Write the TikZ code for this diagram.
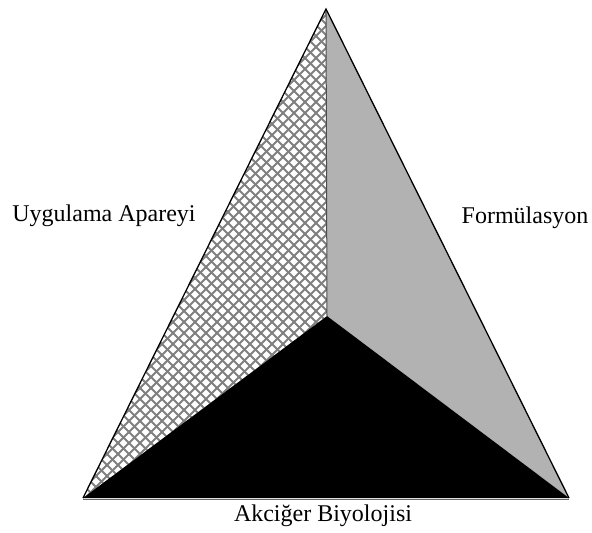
\documentclass[tikz,border=0pt]{standalone}
\usepackage{fontspec}
\usetikzlibrary{calc}
\setmainfont{Liberation Serif}
\begin{document}
\begin{tikzpicture}[x=1pt,y=-1pt,
  lbl/.style={font=\fontsize{24}{27}\selectfont, inner sep=0pt},
  edge/.style={line width=1.3pt, black}]
\useasboundingbox (0,0) rectangle (592,533);
\coordinate (T) at (326,9);
\coordinate (L) at (83,498);
\coordinate (R) at (569,498);
\coordinate (C) at (327,316);
% right gray region
\fill[black!30] (T) -- (R) -- (C) -- cycle;
% left crosshatched region
\fill[white] (T) -- (C) -- (L) -- cycle;
\begin{scope}
  \clip (T) -- (C) -- (L) -- cycle;
  \foreach \c in {0,11,...,1100} {
    \draw[black!50, line width=2pt] (\c,0) -- ++(-600,600);
    \draw[black!50, line width=2pt] (\c-600,0) -- ++(600,600);
  }
\end{scope}
% bottom black region
\fill[black] (L) -- (C) -- (R) -- cycle;
\draw[black!70, line width=1pt] (T) -- (C);
\draw[edge, line join=miter] (L) -- (T) -- (R);
\draw[black!60, line width=1pt] ($(L)+(0,1)$) -- ($(R)+(0,1)$);
\node[lbl] (ua) at (104,216) {Uygulama Apareyi};
\node[lbl] (fo) at (525,218) {Formülasyon};
\node[lbl] (ab) at (323,516) {Akciğer Biyolojisi};
\end{tikzpicture}
\end{document}
